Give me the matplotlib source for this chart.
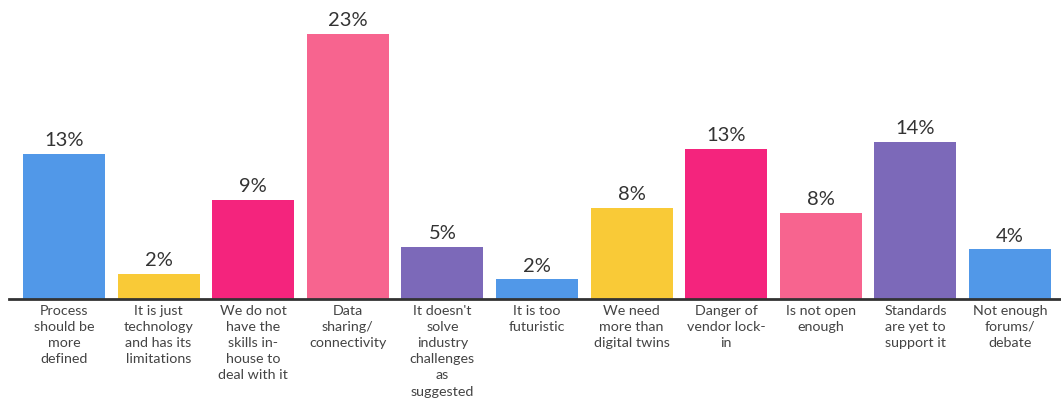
import numpy as np
import matplotlib.pyplot as plt

# Data
categories = ['Process\nshould be\nmore\ndefined',
              'It is just\ntechnology\nand has its\nlimitations',
              'We do not\nhave the\nskills in-\nhouse to\ndeal with it',
              'Data\nsharing/\nconnectivity',
              "It doesn't\nsolve\nindustry\nchallenges\nas\nsuggested",
              'It is too\nfuturistic',
              'We need\nmore than\ndigital twins',
              'Danger of\nvendor lock-\nin',
              'Is not open\nenough',
              'Standards\nare yet to\nsupport it',
              'Not enough\nforums/\ndebate']
values = [12.6, 2.2, 8.6, 23.0, 4.5, 1.7, 7.9, 13.0, 7.5, 13.6, 4.3]
value_labels = ['13%', '2%', '9%', '23%', '5%', '2%', '8%', '13%', '8%', '14%', '4%']

blue, yellow, magenta, pink, purple = '#5198E8', '#F9CA37', '#F4247D', '#F7648F', '#7C69B9'
colors = [blue, yellow, magenta, pink, purple, blue, yellow, magenta, pink, purple, blue]

plt.rcParams['font.family'] = ['Lato', 'DejaVu Sans']

fig = plt.figure(figsize=(10.61, 4.0), dpi=100)
ax = fig.add_axes([9/1061, 101/400, 1 - 9/1061, 299/400])

x = np.arange(len(values))
ax.bar(x, values, width=0.867, color=colors)
ax.set_xlim(-0.581, 10.54)
ax.set_ylim(0, 299/11.52)

# percentage labels above bars
for xi, v, lab in zip(x, values, value_labels):
    ax.annotate(lab, (xi, v), xytext=(0, 3.5), textcoords='offset points',
                ha='center', va='bottom', fontsize=14.5, color='#333333')

# category labels under the axis line
for xi, cat in zip(x, categories):
    ax.annotate(cat, (xi, 0), xytext=(0, -4), textcoords='offset points',
                ha='center', va='top', fontsize=10.3, color='#444444',
                linespacing=1.42, annotation_clip=False)

for s in ['top', 'right', 'left']:
    ax.spines[s].set_visible(False)
ax.spines['bottom'].set_color('#333333')
ax.spines['bottom'].set_linewidth(2)
ax.set_xticks([])
ax.set_yticks([])

fig.savefig('out.png', dpi=100)
